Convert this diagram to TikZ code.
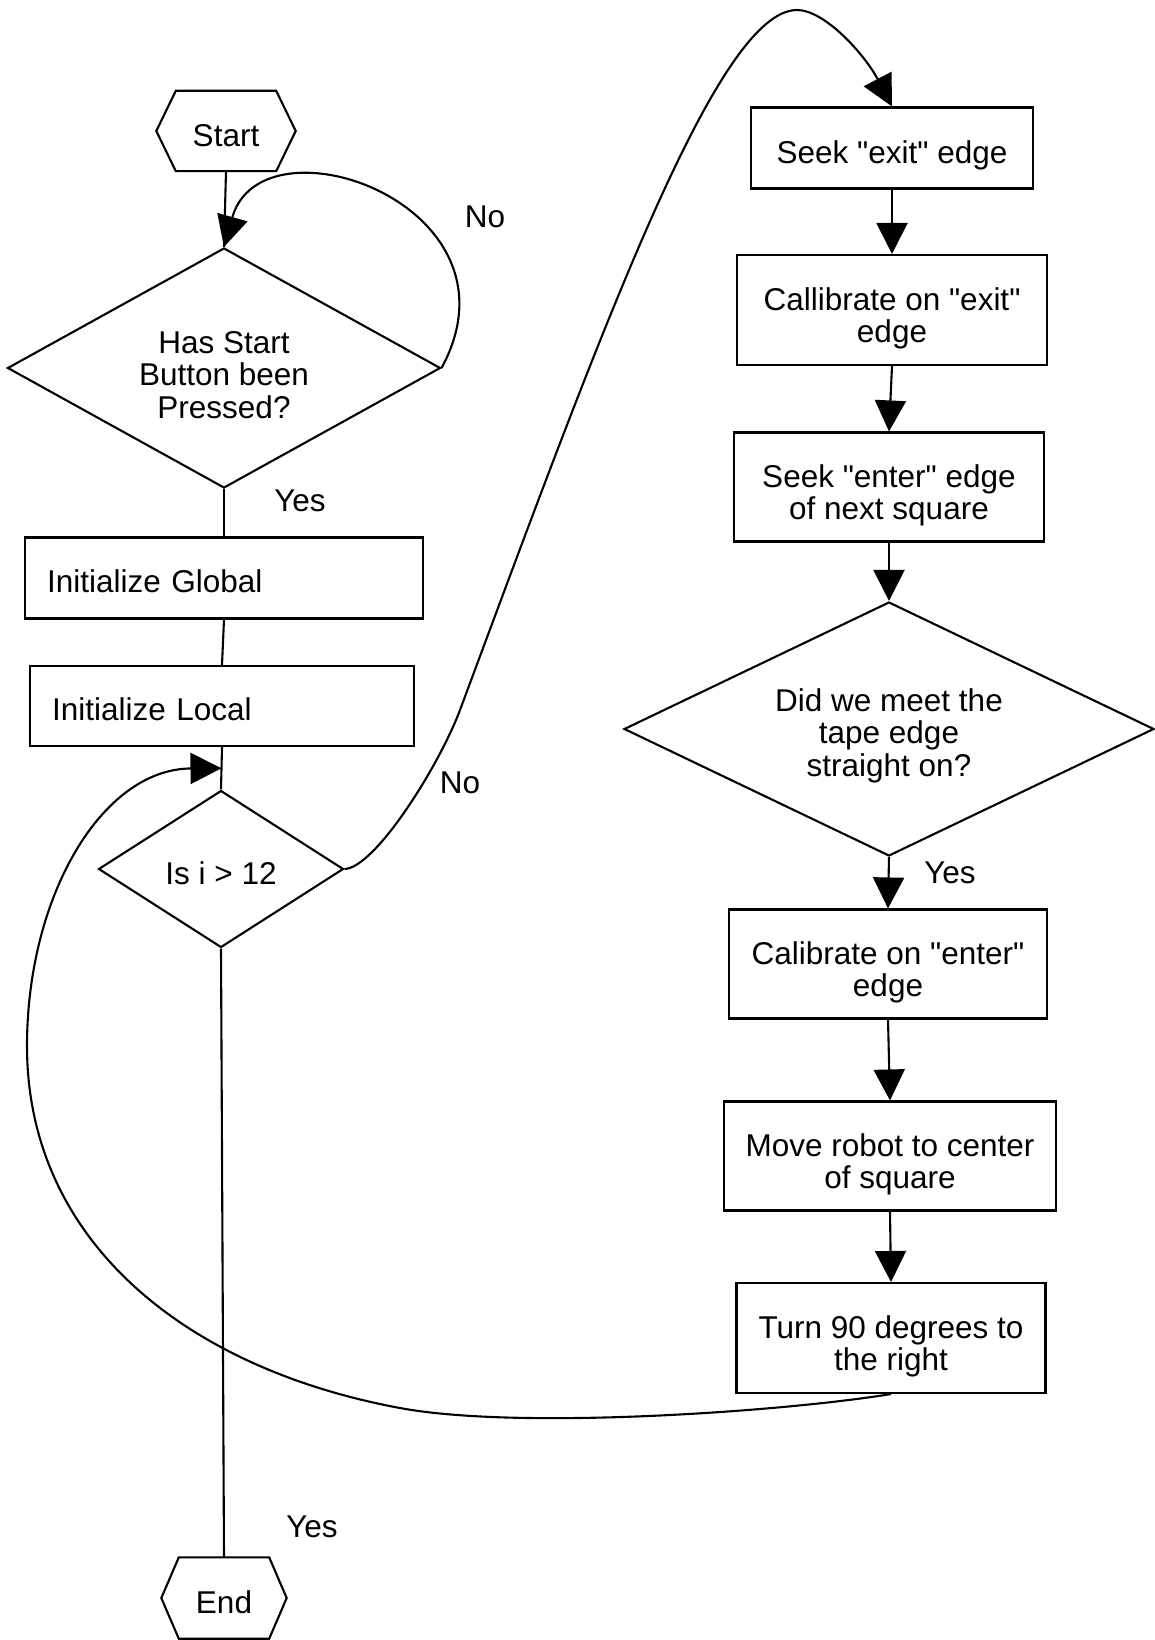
\documentclass[tikz,border=0pt]{standalone}
\usepackage{fontspec}
\setmainfont{Liberation Sans}[Ligatures=TeXOff]
\usepackage{tikz}
\usetikzlibrary{shapes.geometric, arrows.meta, positioning, calc}
\newcommand{\flowfont}{\fontsize{31.5}{32.5}\selectfont}
\newcommand{\lift}[1]{\rule{0pt}{#1}}
\tikzset{
  link/.style={line width=2.1pt},
  arrowline/.style={-{Triangle[length=31pt, width=31pt]}, line width=2.1pt},
  terminal/.style={rectangle, inner sep=0pt, minimum height=80pt, font=\flowfont,
    execute at begin node={\lift{31pt}},
    append after command={\pgfextra{\draw[link]
      ($(\tikzlastnode.north west)+(#1,0)$) -- ($(\tikzlastnode.north east)+(-#1,0)$)
      -- (\tikzlastnode.east) -- ($(\tikzlastnode.south east)+(-#1,0)$)
      -- ($(\tikzlastnode.south west)+(#1,0)$) -- (\tikzlastnode.west) -- cycle;}}},
  box/.style={rectangle, draw, line width=2.1pt, inner sep=0pt, font=\flowfont},
  process/.style={box, align=center, execute at begin node={\lift{37pt}}},
  processleft/.style={box, align=left, inner xsep=22pt, minimum height=81pt,
    execute at begin node={\lift{29pt}}},
  decision/.style={diamond, draw, line width=2.1pt, inner sep=0pt,
    align=center, font=\flowfont, execute at begin node={\lift{31pt}}},
  tag/.style={font=\flowfont, inner sep=0pt}
}
\begin{document}
\begin{tikzpicture}[x=1pt, y=-1pt]
  \useasboundingbox (0,0) rectangle (1154,1640);
  % left column
  \node[terminal=19.5pt, minimum width=139pt] (start) at (226,131) {Start};
  \node[decision, aspect=1.8, minimum width=433pt, minimum height=240pt] (pressed) at (224,368)
    {\lift{36pt}Has Start\\Button been\\Pressed?};
  \node[processleft, text width=354pt] (global) at (224,578) {Initialize Global};
  \node[processleft, text width=340pt, minimum height=80pt] (local) at (222,706) {Initialize Local};
  \node[decision, aspect=1.56, minimum width=245pt, minimum height=157pt] (check) at (221,869) {Is i > 12};
  \node[terminal=17.5pt, minimum width=125pt, minimum height=81pt] (finish) at (224,1598) {End};
  % right column
  \node[process, minimum width=282pt, minimum height=81pt] (seekexit) at (892,148) {Seek "exit" edge};
  \node[process, minimum width=310pt, minimum height=110pt] (calexit) at (892,310)
    {\lift{40pt}Callibrate on "exit"\\edge};
  \node[process, minimum width=310pt, minimum height=109pt] (seekenter) at (889,487)
    {\lift{40pt}Seek "enter" edge\\of next square};
  \node[decision, aspect=2.09, minimum width=530pt, minimum height=254pt] (straight) at (889,729)
    {\lift{36pt}Did we meet the\\tape edge\\straight on?};
  \node[process, minimum width=318pt, minimum height=109pt] (calenter) at (888,964)
    {\lift{40pt}Calibrate on "enter"\\edge};
  \node[process, minimum width=332pt, minimum height=109pt] (move) at (890,1156)
    {\lift{40pt}Move robot to center\\of square};
  \node[process, minimum width=309pt, minimum height=110pt] (turn) at (891,1338)
    {\lift{40pt}Turn 90 degrees to\\the right};
  % labels
  \node[tag] (nopressed) at (485,217) {No};
  \node[tag] (yespressed) at (300,501) {Yes};
  \node[tag] (nocheck) at (460,783) {No};
  \node[tag] (yescheck) at (312,1527) {Yes};
  \node[tag] (yesstraight) at (950,873) {Yes};
  \coordinate (join) at ($(local.south)!0.5!(check.north)$);
  % connectors
  \draw[link] (start.south) -- (pressed.north);
  \draw[arrowline] (pressed.east) .. controls (530,205) and (262,112) .. (pressed.north);
  \draw[link] (pressed.south) -- (global.north);
  \draw[link] (global.south) -- (local.north);
  \draw[link] (local.south) -- (check.north);
  \draw[link] (check.south) -- (finish.north);
  \draw[arrowline] (check.east) .. controls (375,868) and (439,766) .. (460,710)
    .. controls (600,334) and (717,10) .. (797,10)
    .. controls (825,10) and (865,55) .. (seekexit.north);
  \draw[arrowline] (seekexit.south) -- (calexit.north);
  \draw[arrowline] (calexit.south) -- (seekenter.north);
  \draw[arrowline] (seekenter.south) -- (straight.north);
  \draw[arrowline] (straight.south) -- (calenter.north);
  \draw[arrowline] (calenter.south) -- (move.north);
  \draw[arrowline] (move.south) -- (turn.north);
  \draw[arrowline] (turn.south) .. controls (780,1412) and (518,1430) .. (400,1408)
    .. controls (184,1368) and (27,1240) .. (27,1046)
    .. controls (27,896) and (102,769) .. (join);
\end{tikzpicture}
\end{document}
